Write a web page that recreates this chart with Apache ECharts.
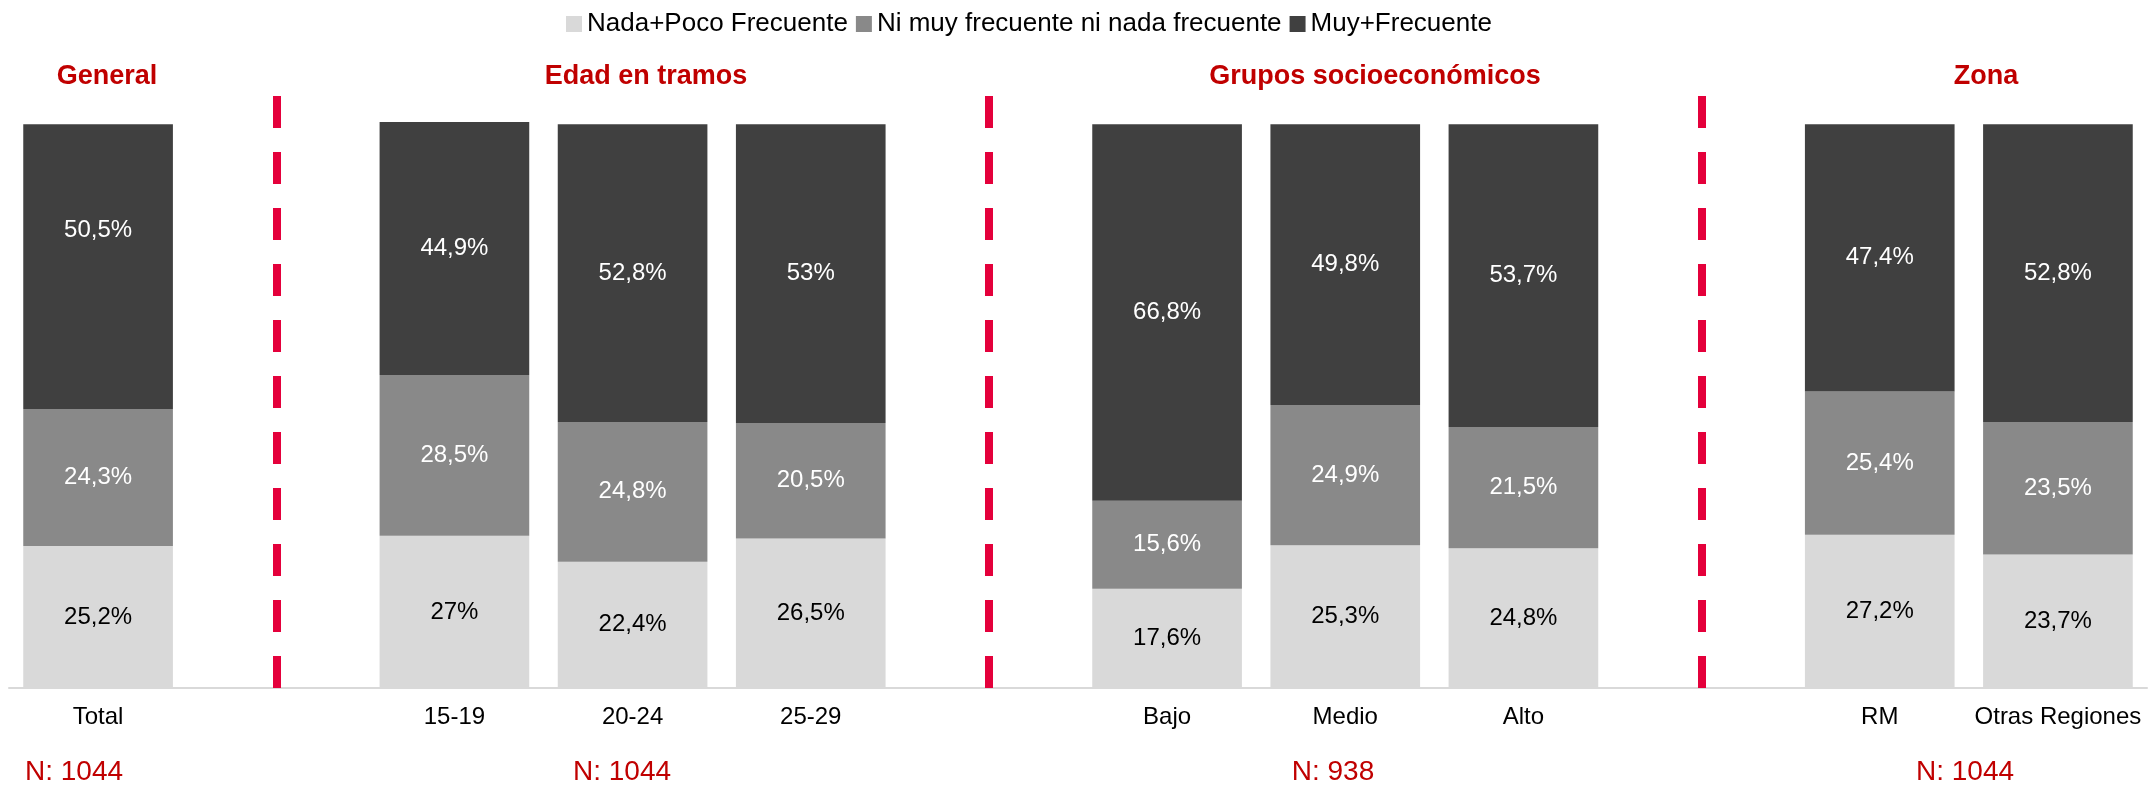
<!DOCTYPE html>
<html>
<head>
<meta charset="utf-8">
<title>Frecuencia por segmento</title>
<script src="https://cdn.jsdelivr.net/npm/echarts@6/dist/echarts.min.js"></script>
<style>
  html, body { margin: 0; padding: 0; background: #fff; }
  #chart { width: 2148px; height: 785px; }
</style>
</head>
<body>
<div id="chart"></div>
<script>
// categorias (g1..g3 son huecos entre grupos, sin etiqueta)
var categories = ['Total', 'g1', '15-19', '20-24', '25-29', 'g2', 'Bajo', 'Medio', 'Alto', 'g3', 'RM', 'Otras Regiones'];
var gapCats = ['g1', 'g2', 'g3'];

var seriesNames = ['Nada+Poco Frecuente', 'Ni muy frecuente ni nada frecuente', 'Muy+Frecuente'];
var nadaPoco   = [25.2, null, 27,   22.4, 26.5, null, 17.6, 25.3, 24.8, null, 27.2, 23.7];
var niMuyNi    = [24.3, null, 28.5, 24.8, 20.5, null, 15.6, 24.9, 21.5, null, 25.4, 23.5];
var muyFrec    = [50.5, null, 44.9, 52.8, 53,   null, 66.8, 49.8, 53.7, null, 47.4, 52.8];

var groupTitles = ['General', 'Edad en tramos', 'Grupos socioeconómicos', 'Zona'];
var groupN = ['N: 1044', 'N: 1044', 'N: 938', 'N: 1044'];

var FONT = '"Liberation Sans", Arial, Helvetica, sans-serif';
var RED = '#c00000';

function pct(p) {
    return String(p.value).replace('.', ',') + '%';
}

var myChart = echarts.init(document.getElementById('chart'));

function barSeries(name, data, color, labelColor, extra) {
    var s = {
        name: name,
        type: 'bar',
        stack: 'total',
        barWidth: '84%',
        data: data.map(function (v) { return v == null ? '-' : v; }),
        itemStyle: { color: color },
        label: {
            show: true,
            position: 'inside',
            formatter: pct,
            color: labelColor,
            fontSize: 24,
            fontFamily: FONT
        }
    };
    return Object.assign(s, extra || {});
}

var topData = muyFrec.map(function (v, i) {
    if (v == null) return '-';
    if (i === 0) return { value: v, label: { offset: [0, -36] } };
    return v;
});

var titleX = [107, 646, 1375, 1986];
var nX = [74, 622, 1333, 1965];
var graphics = [];
groupTitles.forEach(function (t, i) {
    graphics.push({
        type: 'text', x: titleX[i], y: 77,
        style: { text: t, align: 'center', verticalAlign: 'middle', fill: RED,
                 font: 'bold 27px ' + FONT }
    });
});
groupN.forEach(function (t, i) {
    graphics.push({
        type: 'text', x: nX[i], y: 772,
        style: { text: t, align: 'center', verticalAlign: 'middle', fill: RED,
                 font: '28px ' + FONT }
    });
});

var option = {
    animation: false,
    textStyle: { fontFamily: FONT },
    legend: {
        data: seriesNames,
        left: 566,
        top: 11,
        padding: 0,
        itemWidth: 16,
        itemHeight: 16,
        itemGap: 8,
        icon: 'rect',
        textStyle: { fontSize: 26, color: '#000', fontFamily: FONT }
    },
    grid: { left: 9, right: 1, top: 96, bottom: 97, containLabel: false },
    xAxis: {
        type: 'category',
        data: categories,
        axisTick: { show: false },
        axisLine: { lineStyle: { color: '#d9d9d9', width: 2 } },
        axisLabel: {
            interval: 0,
            margin: 17,
            fontSize: 24,
            color: '#000',
            fontFamily: FONT,
            formatter: function (v) { return gapCats.indexOf(v) >= 0 ? '' : v; }
        }
    },
    yAxis: {
        type: 'value',
        min: 0,
        max: 105,
        show: false,
        splitLine: { show: false }
    },
    graphic: graphics,
    series: [
        barSeries(seriesNames[0], nadaPoco, '#d9d9d9', '#000', {
            markLine: {
                silent: true,
                symbol: 'none',
                label: { show: false },
                lineStyle: { color: '#e4003b', width: 8, type: [32, 24], cap: 'butt' },
                data: gapCats.map(function (g) { return { xAxis: g }; })
            }
        }),
        barSeries(seriesNames[1], niMuyNi, '#898989', '#fff'),
        barSeries(seriesNames[2], muyFrec, '#404040', '#fff')
    ]
};
option.series[2].data = topData;

myChart.setOption(option);
</script>
</body>
</html>
